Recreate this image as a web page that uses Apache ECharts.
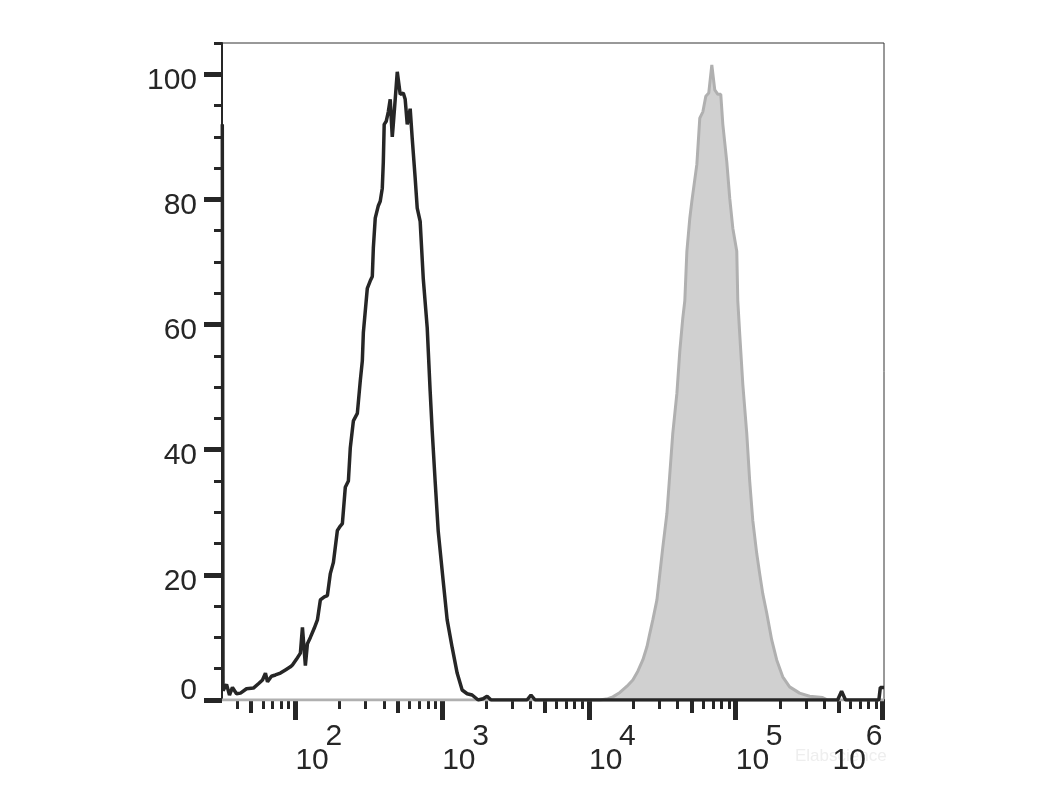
<!DOCTYPE html>
<html>
<head>
<meta charset="utf-8">
<script src="https://cdn.jsdelivr.net/npm/echarts@6/dist/echarts.min.js"></script>
<style>
html,body{margin:0;padding:0;background:#fff;}
#chart{width:1051px;height:788px;}
</style>
</head>
<body>
<div id="chart"></div>
<script>
// x values are log10 of fluorescence intensity
const blackX = [1.502,1.507,1.531,1.551,1.571,1.599,1.626,1.667,1.714,1.748,1.776,1.796,1.810,1.837,1.864,1.898,1.932,1.966,1.980,2.007,2.034,2.048,2.068,2.082,2.102,2.129,2.150,2.170,2.197,2.218,2.238,2.259,2.272,2.286,2.306,2.320,2.340,2.361,2.374,2.395,2.422,2.442,2.456,2.463,2.476,2.490,2.510,2.524,2.531,2.544,2.565,2.578,2.592,2.599,2.605,2.619,2.633,2.646,2.660,2.667,2.680,2.694,2.714,2.735,2.748,2.762,2.782,2.796,2.816,2.830,2.850,2.871,2.898,2.918,2.932,2.952,2.973,3.007,3.034,3.068,3.102,3.136,3.170,3.204,3.245,3.279,3.306,3.333,3.578,3.605,3.633,5.694,5.721,5.748,5.975,5.985,6.010];
const blackY = [92,1.5,2.5,0.8,2.0,1.0,1.1,1.8,1.9,2.6,3.2,4.3,2.9,3.8,4.0,4.3,4.8,5.3,5.6,6.5,7.5,11.6,5.5,9.0,10.0,11.5,12.8,16.0,16.5,16.7,20.2,22.0,22.3,27.1,27.8,28.2,34.0,35.0,40.3,44.6,45.8,51.0,54.2,58.7,59.0,65.8,67.0,67.7,72.2,77.0,79.0,79.7,81.8,86.0,92.0,92.5,94.0,96.0,90.0,92.0,96.0,100.4,96.8,97.0,96.0,92.0,94.5,89.7,83.4,78.6,76.5,67.4,59.5,49.4,43.0,35.0,27.0,19.0,12.8,8.4,4.3,1.6,1.0,0.8,0.0,0.2,0.6,0.0,0.0,0.8,0.0,0.0,1.4,0.0,0.0,2.0,2.0];

const grayX = [1.500,4.075,4.129,4.163,4.211,4.259,4.299,4.333,4.367,4.395,4.415,4.435,4.463,4.483,4.503,4.531,4.551,4.571,4.599,4.619,4.639,4.653,4.667,4.687,4.701,4.735,4.755,4.776,4.796,4.816,4.837,4.857,4.878,4.898,4.912,4.939,4.959,4.980,5.007,5.014,5.027,5.048,5.075,5.095,5.116,5.143,5.163,5.184,5.211,5.245,5.279,5.320,5.367,5.435,5.503,5.592,5.626,6.010];
const grayY = [0,0,0.2,0.5,1.2,2.2,3.2,4.6,6.4,8.5,10.7,12.8,16.0,20.2,24.4,29.8,36.2,42.6,49.0,55.8,61.0,63.8,71.7,77.0,79.7,85.6,93.0,94.0,96.5,97.0,101.5,97.5,96.8,96.8,92.0,86.0,80.2,75.4,71.7,63.8,58.5,50.5,42.6,35.0,28.7,23.4,20.2,17.0,13.9,9.6,6.4,3.7,2.1,1.1,0.6,0.4,0,0];

const xMajorTicks = [2,3,4,5,6];
const xMediumFactor = [5];
const xMinorFactors = [2,3,4,6,7,8,9];
const yMajorTicks = [0,20,40,60,80,100];

const X_MIN = 1.5, X_MAX = 6.01;
const decades = [1,2,3,4,5];
function logTicks(factors){
  const out=[];
  decades.forEach(d=>factors.forEach(f=>{const v=d+Math.log10(f); if(v>=X_MIN && v<=X_MAX) out.push(v);}));
  return out;
}
const xMediumTicks = logTicks(xMediumFactor);
const xMinorTicks = logTicks(xMinorFactors);

const blackData = blackX.map((x,i)=>[x,blackY[i]]);
const grayData = grayX.map((x,i)=>[x,grayY[i]]);

const dark = '#262626';
const FONT = '"Liberation Sans", Arial, sans-serif';

function xAxisBase(){
  return {type:'value',gridIndex:0,position:'bottom',min:X_MIN,max:X_MAX,
    splitLine:{show:false},axisLine:{show:false,onZero:false}};
}
const chart = echarts.init(document.getElementById('chart'));
chart.setOption({
  animation:false,
  backgroundColor:'#ffffff',
  grid:{left:222,top:43,right:167,bottom:88,show:true,borderColor:'#333',borderWidth:1,backgroundColor:'transparent'},
  xAxis:[
    Object.assign(xAxisBase(),{
      axisLine:{show:true,onZero:false,lineStyle:{color:dark,width:2}},
      axisTick:{show:true,customValues:xMajorTicks,length:20,lineStyle:{color:dark,width:5}},
      axisLabel:{show:true,customValues:xMajorTicks,margin:46,align:'left',alignMaxLabel:'right',
        formatter:v=>'{b|10}{e|'+Math.round(v)+'}',
        rich:{
          b:{fontFamily:FONT,fontSize:30,color:dark,verticalAlign:'bottom',lineHeight:30,width:30},
          e:{fontFamily:FONT,fontSize:30,color:dark,verticalAlign:'bottom',lineHeight:30,padding:[0,0,24,0]}
        }}
    }),
    Object.assign(xAxisBase(),{
      axisTick:{show:true,customValues:xMediumTicks,length:13,lineStyle:{color:dark,width:4}},
      axisLabel:{show:false}
    }),
    Object.assign(xAxisBase(),{
      axisTick:{show:true,customValues:xMinorTicks,length:9,lineStyle:{color:dark,width:3}},
      axisLabel:{show:false}
    })
  ],
  yAxis:[
    {type:'value',gridIndex:0,position:'left',min:0,max:105,
      splitLine:{show:false},
      axisLine:{show:true,onZero:false,lineStyle:{color:dark,width:2}},
      axisTick:{show:true,customValues:yMajorTicks,length:18,lineStyle:{color:dark,width:5}},
      axisLabel:{show:true,customValues:yMajorTicks,margin:25,
        formatter:v=>v===0?'{z|0}':'{n|'+v+'}',
        rich:{
          n:{fontFamily:FONT,fontSize:30,color:dark,lineHeight:30,padding:[13,0,0,0]},
          z:{fontFamily:FONT,fontSize:30,color:dark,lineHeight:30,padding:[0,0,18,0]}
        }}
    },
    {type:'value',gridIndex:0,position:'left',min:0,max:105,interval:5,
      splitLine:{show:false},
      axisLine:{show:false,onZero:false},
      axisTick:{show:true,length:8,lineStyle:{color:dark,width:3}},
      axisLabel:{show:false}
    }
  ],
  graphic:[{type:'text',left:795,top:748,z:-1,style:{text:'Elabscience',fontFamily:FONT,fontSize:17,fill:'#eeeeee'}}],
  series:[
    {type:'line',name:'gray',xAxisIndex:0,yAxisIndex:0,data:grayData,showSymbol:false,symbol:'none',z:2,
      lineStyle:{color:'#b0b0b0',width:3},areaStyle:{color:'#d0d0d0',opacity:1,origin:'start'}},
    {type:'line',name:'black',xAxisIndex:0,yAxisIndex:0,data:blackData,showSymbol:false,symbol:'none',z:3,
      lineStyle:{color:dark,width:3.5}}
  ]
});
</script>
</body>
</html>
